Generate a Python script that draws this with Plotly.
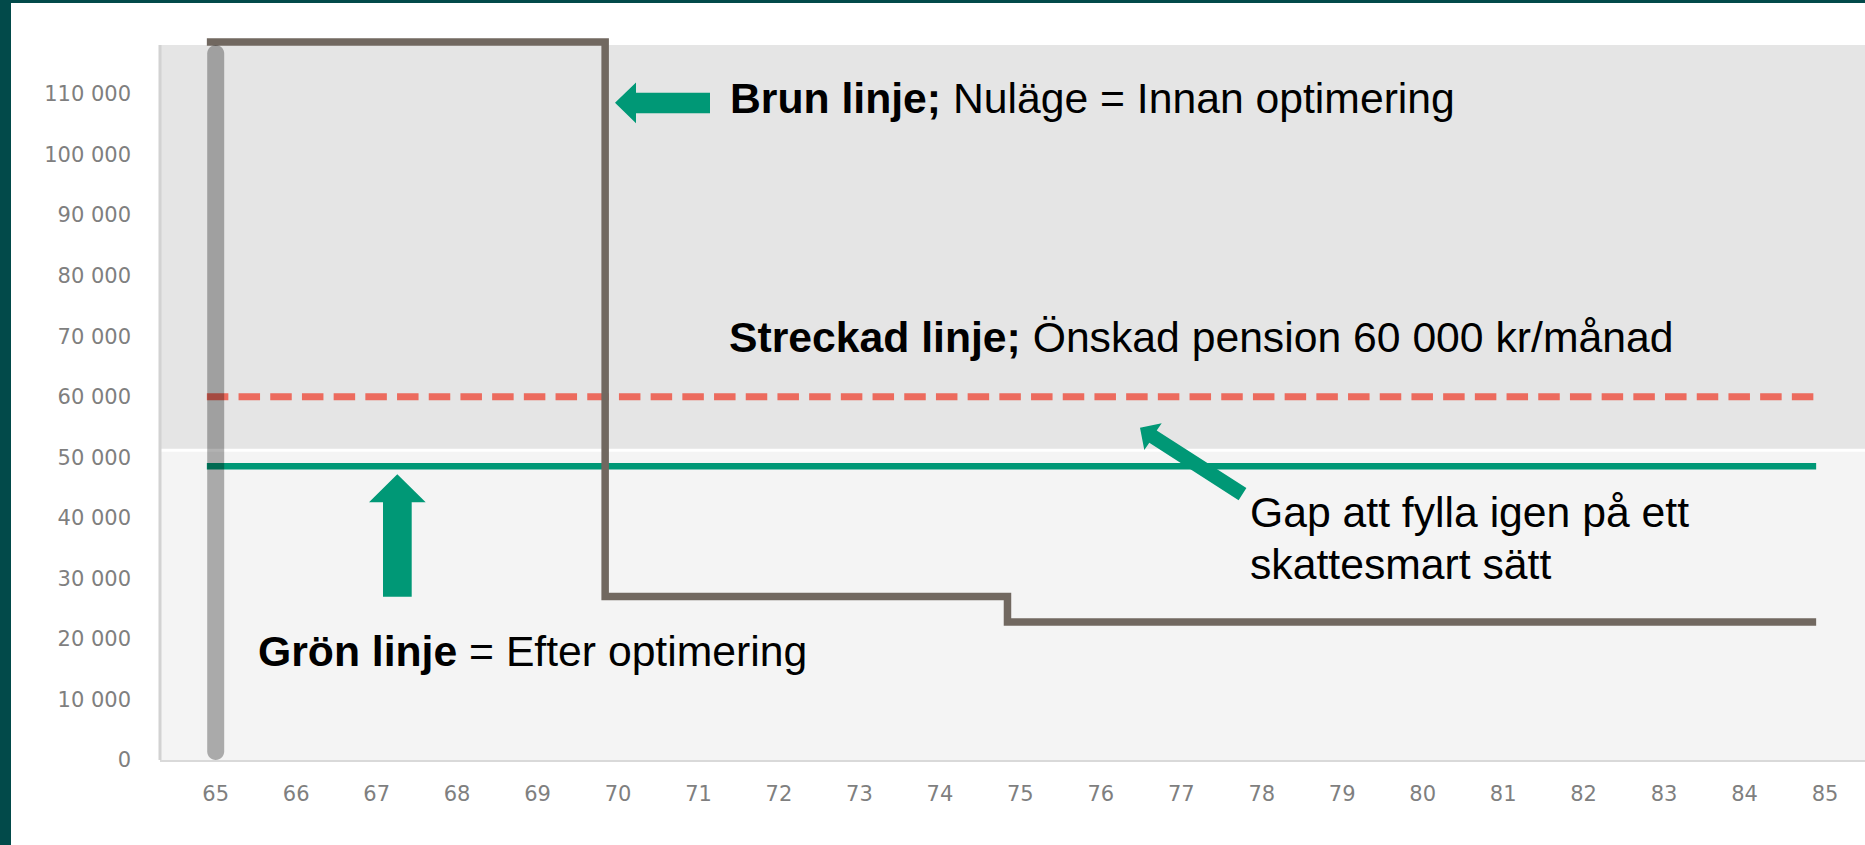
import plotly.graph_objects as go

# ---------------- data ----------------
age_ticks = [65, 66, 67, 68, 69, 70, 71, 72, 73, 74, 75, 76, 77, 78, 79, 80, 81, 82, 83, 84, 85]
y_ticks = [0, 10000, 20000, 30000, 40000, 50000, 60000, 70000, 80000, 90000, 100000, 110000]
y_ticktext = ["0", "10 000", "20 000", "30 000", "40 000", "50 000", "60 000",
              "70 000", "80 000", "90 000", "100 000", "110 000"]

brown_x = [64.89, 69.84, 74.84, 84.89]          # Nuläge (step)
brown_y = [118600, 27000, 22800, 22800]
green_x = [64.89, 84.89]                          # Efter optimering
green_y = [48500, 48500]
target_x = [64.89, 84.89]                         # Önskad pension
target_y = [60000, 60000]
current_age = 65
band_split_low = 50900
band_split_high = 51400
band_top = 118100

# ---------------- geometry helpers ----------------
W, H = 1865, 845
PL, PR, PT, PB = 160, 1865, 27, 760
X_LO = 65 - (215.7 - PL) / 80.465
X_HI = X_LO + (PR - PL) / 80.465
Y_HI = (PB - PT) / 60.55 * 10000


def dx(px):
    return X_LO + (px - PL) * (X_HI - X_LO) / (PR - PL)


def dy(py):
    return (PB - py) * Y_HI / (PB - PT)


def poly(pts):
    return "M " + " L ".join(f"{dx(a):.5f},{dy(b):.2f}" for a, b in pts) + " Z"


BROWN = "#716860"
GREEN = "#009876"
RED = "#EC6B5E"
TEAL = "#024A4A"

fig = go.Figure()
fig.add_trace(go.Scatter(x=target_x, y=target_y, mode="lines",
                         line=dict(color=RED, width=7, dash="21.5px,10.2px"), hoverinfo="skip"))
fig.add_trace(go.Scatter(x=green_x, y=green_y, mode="lines",
                         line=dict(color=GREEN, width=6.5), hoverinfo="skip"))
fig.add_trace(go.Scatter(x=brown_x, y=brown_y, mode="lines", line_shape="hv",
                         line=dict(color=BROWN, width=7.5), hoverinfo="skip"))

shapes = []
# background bands
shapes.append(dict(type="rect", xref="paper", yref="y", x0=0, x1=1, y0=0, y1=band_split_low,
                   fillcolor="#F4F4F4", line_width=0, layer="below"))
shapes.append(dict(type="rect", xref="paper", yref="y", x0=0, x1=1, y0=band_split_high, y1=band_top,
                   fillcolor="#E5E5E5", line_width=0, layer="below"))
# left axis line
shapes.append(dict(type="line", xref="paper", yref="y", x0=0, x1=0, y0=0, y1=band_top,
                   line=dict(color="#D2D2D2", width=3), layer="below"))

# vertical rounded marker at current age
r = 8.5
rd = r / 60.55 * 10000
k = 0.5523
yt = band_top - rd
yb = rd
marker_path = (f"M {-r},{yb} L {-r},{yt} "
               f"C {-r},{yt + k * rd} {-k * r},{band_top} 0,{band_top} "
               f"C {k * r},{band_top} {r},{yt + k * rd} {r},{yt} "
               f"L {r},{yb} "
               f"C {r},{yb - k * rd} {k * r},0 0,0 "
               f"C {-k * r},0 {-r},{yb - k * rd} {-r},{yb} Z")
shapes.append(dict(type="path", xref="x", yref="y", xsizemode="pixel", xanchor=current_age,
                   path=marker_path, fillcolor="rgba(0,0,0,0.30)", line_width=0, layer="above"))

# green block arrows
arrow1 = [(615, 102.7), (636, 82.5), (636, 92.7), (710, 92.7), (710, 113.3), (636, 113.3), (636, 123.3)]
arrow2 = [(397.3, 474.3), (425.7, 502.3), (411.7, 502.3), (411.7, 596.7), (383, 596.7), (383, 502.3), (369, 502.3)]
arrow3 = [(1140, 427.7), (1161.7, 423.3), (1156.7, 430.6), (1246.4, 488.1), (1238.6, 500.3),
          (1149.3, 442.8), (1144.3, 450)]
for a in (arrow1, arrow2, arrow3):
    shapes.append(dict(type="path", xref="x", yref="y", path=poly(a),
                       fillcolor=GREEN, line_width=0, layer="above"))

# dark teal frame (left + top)
shapes.append(dict(type="rect", xref="paper", yref="paper", xsizemode="pixel", ysizemode="pixel",
                   xanchor=0, yanchor=0, x0=-PL - 5, x1=-PL + 11, y0=-(H - PB) - 20, y1=PB + 20,
                   fillcolor=TEAL, line_width=0, layer="above"))
shapes.append(dict(type="rect", xref="paper", yref="paper", xsizemode="pixel", ysizemode="pixel",
                   xanchor=0, yanchor=1, x0=-PL - 5, x1=W, y0=PT - 3, y1=PT + 20,
                   fillcolor=TEAL, line_width=0, layer="above"))

TXT = dict(family="Liberation Sans, Arial, sans-serif", size=42.7, color="#000000")
annotations = [
    dict(text="<b>Brun linje;</b> Nuläge = Innan optimering", x=dx(727.5), y=dy(97.8)),
    dict(text="<b>Streckad linje;</b> Önskad pension 60 000 kr/månad", x=dx(727), y=dy(337)),
    dict(text="Gap att fylla igen på ett", x=dx(1248), y=dy(512)),
    dict(text="skattesmart sätt", x=dx(1248), y=dy(563.5)),
    dict(text="<b>Grön linje</b> = Efter optimering", x=dx(255.5), y=dy(651)),
]
for a in annotations:
    a.update(xref="x", yref="y", xanchor="left", yanchor="middle", showarrow=False, font=TXT)

TICKF = dict(family="DejaVu Sans, Verdana, sans-serif", size=21, color="#7F7F7F")
fig.update_layout(
    width=W, height=H, autosize=False,
    margin=dict(l=PL, r=W - PR, t=PT, b=H - PB, pad=0),
    paper_bgcolor="#FFFFFF", plot_bgcolor="#FFFFFF",
    showlegend=False,
    shapes=shapes, annotations=annotations,
    xaxis=dict(range=[X_LO, X_HI], tickvals=age_ticks, ticktext=[str(a) for a in age_ticks],
               showgrid=False, zeroline=False, showline=True, linecolor="#D9D9D9", linewidth=2,
               ticks="", tickfont=TICKF, ticklabelstandoff=14, fixedrange=True),
    yaxis=dict(range=[0, Y_HI], tickvals=y_ticks, ticktext=y_ticktext,
               showgrid=False, zeroline=False, showline=False,
               ticks="", tickfont=TICKF, ticklabelstandoff=28, fixedrange=True),
)

fig.write_html("out.html", config={"displayModeBar": False, "staticPlot": True},
               post_script="document.body.style.margin='0';")
